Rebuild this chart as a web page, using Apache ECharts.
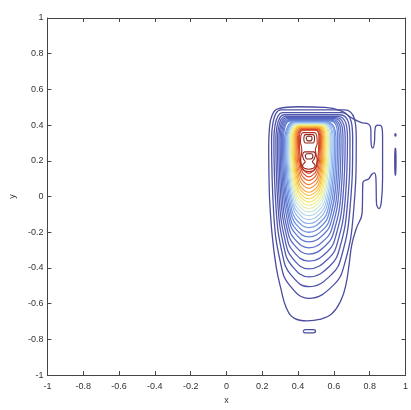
<!DOCTYPE html>
<html><head><meta charset="utf-8">
<script src="https://cdn.jsdelivr.net/npm/echarts@6/dist/echarts.min.js"></script>
<style>html,body{margin:0;padding:0;background:#fff}#c{width:411px;height:410px}</style>
</head><body><div id="c"></div>
<script>
// axis ranges and ticks
const axisRange = [-1, 1];
const tickStep = 0.2;
const xName = 'x';
const yName = 'y';

// outermost contour (level 0)
const outerContour = [[.240,.006],[.236,.28],[.240,.38],[.255,.455],[.29,.492],[.40,.503],[.55,.50],[.64,.48],[.70,.44],[.75,.415],[.795,.405],[.806,.38],[.808,.30],[.817,.272],[.826,.30],[.83,.38],[.845,.40],[.865,.395],[.872,.34],[.872,.10],[.865,-.03],[.852,-.067],[.838,-.04],[.835,.10],[.826,.133],[.812,.125],[.795,.10],[.762,.078],[.758,-.09],[.725,-.18],[.70,-.27],[.685,-.38],[.668,-.49],[.64,-.58],[.59,-.655],[.52,-.688],[.45,-.696],[.38,-.682],[.335,-.625],[.305,-.52],[.278,-.395],[.255,-.213],[.240,.006]];

// nested contours, levels 1..26
const nestedContours = [
[[.252,.327],[.304,.485],[.659,.485],[.725,.327],[.709,-.095],[.659,-.380],[.598,-.496],[.46,-.570],[.352,-.496],[.304,-.380],[.264,-.095],[.252,.327]],
[[.265,.324],[.314,.470],[.644,.470],[.705,.324],[.690,-.066],[.644,-.330],[.587,-.437],[.46,-.505],[.359,-.437],[.314,-.330],[.277,-.066],[.265,.324]],
[[.276,.322],[.322,.458],[.633,.458],[.690,.322],[.676,-.041],[.633,-.287],[.580,-.386],[.46,-.450],[.364,-.386],[.322,-.287],[.287,-.041],[.276,.322]],
[[.285,.321],[.329,.449],[.622,.449],[.676,.321],[.663,-.021],[.622,-.251],[.572,-.345],[.46,-.405],[.369,-.345],[.329,-.251],[.295,-.021],[.285,.321]],
[[.293,.321],[.335,.442],[.612,.442],[.663,.321],[.651,0],[.612,-.217],[.566,-.306],[.46,-.362],[.373,-.306],[.335,-.217],[.303,0],[.293,.321]],
[[.300,.322],[.340,.436],[.603,.436],[.651,.322],[.640,.019],[.603,-.186],[.559,-.269],[.46,-.322],[.377,-.269],[.340,-.186],[.310,.019],[.300,.322]],
[[.307,.323],[.345,.431],[.595,.431],[.640,.323],[.629,.036],[.595,-.158],[.554,-.237],[.46,-.287],[.380,-.237],[.345,-.158],[.316,.036],[.307,.323]],
[[.313,.325],[.350,.427],[.588,.427],[.630,.325],[.620,.052],[.588,-.131],[.548,-.206],[.46,-.254],[.384,-.206],[.350,-.131],[.322,.052],[.313,.325]],
[[.319,.326],[.354,.423],[.581,.423],[.621,.326],[.611,.066],[.581,-.109],[.544,-.181],[.46,-.226],[.387,-.181],[.354,-.109],[.327,.066],[.319,.326]],
[[.325,.327],[.372,.420],[.559,.420],[.612,.327],[.603,.079],[.574,-.088],[.539,-.157],[.46,-.200],[.390,-.157],[.359,-.088],[.333,.079],[.325,.327]],
[[.331,.328],[.376,.417],[.554,.417],[.604,.328],[.595,.092],[.568,-.068],[.535,-.133],[.46,-.174],[.393,-.133],[.363,-.068],[.339,.092],[.331,.328]],
[[.337,.329],[.380,.414],[.548,.414],[.596,.329],[.588,.103],[.562,-.049],[.531,-.111],[.46,-.151],[.396,-.111],[.368,-.049],[.344,.103],[.337,.329]],
[[.342,.330],[.383,.411],[.544,.411],[.589,.330],[.581,.114],[.557,-.032],[.527,-.091],[.46,-.129],[.399,-.091],[.371,-.032],[.349,.114],[.342,.330]],
[[.347,.331],[.387,.408],[.539,.408],[.582,.331],[.575,.125],[.552,-.014],[.523,-.071],[.46,-.107],[.401,-.071],[.375,-.014],[.354,.125],[.347,.331]],
[[.352,.331],[.390,.405],[.535,.405],[.575,.331],[.568,.135],[.546,.002],[.520,-.052],[.46,-.086],[.404,-.052],[.379,.002],[.358,.135],[.352,.331]],
[[.357,.332],[.393,.402],[.531,.402],[.569,.332],[.562,.144],[.542,.017],[.517,-.034],[.46,-.067],[.406,-.034],[.383,.017],[.363,.144],[.357,.332]],
[[.362,.332],[.396,.399],[.527,.399],[.563,.332],[.557,.153],[.537,.032],[.514,-.018],[.46,-.049],[.409,-.018],[.386,.032],[.368,.153],[.362,.332]],
[[.367,.332],[.400,.396],[.523,.396],[.557,.332],[.551,.161],[.533,.046],[.510,-.001],[.46,-.031],[.412,-.001],[.390,.046],[.373,.161],[.367,.332]],
[[.372,.332],[.403,.393],[.519,.393],[.551,.332],[.546,.170],[.528,.060],[.507,.015],[.46,-.013],[.414,.015],[.394,.060],[.377,.170],[.372,.332]],
[[.377,.332],[.406,.390],[.516,.390],[.546,.332],[.541,.179],[.525,.075],[.505,.033],[.46,.006],[.417,.033],[.398,.075],[.382,.179],[.377,.332]],
[[.382,.333],[.409,.387],[.513,.387],[.541,.333],[.536,.187],[.521,.089],[.502,.049],[.46,.024],[.419,.049],[.401,.089],[.387,.187],[.382,.333]],
[[.387,.333],[.413,.384],[.509,.384],[.536,.333],[.531,.198],[.517,.107],[.500,.070],[.46,.046],[.422,.070],[.405,.107],[.391,.198],[.387,.333]],
[[.392,.334],[.416,.381],[.506,.381],[.531,.334],[.527,.208],[.513,.124],[.497,.089],[.46,.067],[.425,.089],[.409,.124],[.396,.208],[.392,.334]],
[[.397,.335],[.419,.378],[.503,.378],[.526,.335],[.522,.220],[.510,.142],[.494,.110],[.46,.090],[.427,.110],[.413,.142],[.401,.220],[.397,.335]],
[[.402,.335],[.422,.375],[.500,.375],[.521,.335],[.517,.229],[.506,.158],[.492,.129],[.46,.110],[.430,.129],[.416,.158],[.405,.229],[.402,.335]],
[[.407,.336],[.426,.372],[.496,.372],[.516,.336],[.513,.239],[.502,.174],[.489,.147],[.46,.130],[.432,.147],[.420,.174],[.410,.239],[.407,.336]]
];

// innermost peak contours (levels 27..29)
const peakContours = [
[[.413,.30],[.428,.358],[.492,.358],[.507,.30],[.497,.262],[.507,.20],[.494,.152],[.46,.140],[.426,.152],[.414,.20],[.421,.262],[.413,.30]],
[[.432,.325],[.442,.347],[.482,.347],[.492,.325],[.482,.300],[.442,.300],[.432,.325]],
[[.425,.235],[.437,.25],[.485,.25],[.497,.235],[.49,.21],[.48,.195],[.495,.175],[.485,.158],[.46,.153],[.435,.158],[.425,.175],[.44,.195],[.43,.21],[.425,.235]],
[[.445,.33],[.455,.338],[.47,.338],[.478,.33],[.47,.312],[.455,.312],[.445,.33]],
[[.44,.23],[.45,.24],[.475,.24],[.483,.228],[.47,.21],[.45,.21],[.44,.23]]
];
const peakLevels = [27, 28, 28, 29, 29];

// small isolated level-0 islands
const islandContours = [
[[.428,-.755],[.44,-.745],[.485,-.745],[.497,-.755],[.485,-.764],[.44,-.764],[.428,-.755]],
[[.940,.345],[.943,.352],[.947,.345],[.943,.338],[.940,.345]],
[[.940,.20],[.941,.27],[.946,.27],[.947,.20],[.946,.12],[.941,.12],[.940,.20]]
];

const levelColors = ['#4a4c9e','#4c50a4','#4e54aa','#5058b0','#525cb6','#5462bc','#5868c2','#5c70c8','#6078ce','#6682d6','#6e8fde','#7a9ee6','#88aeec','#9cc2ee','#b4d6ea','#cce6d4','#e0efb0','#eeee88','#f6e466','#f8d450','#f8c040','#f6a838','#f29032','#ec782c','#e46028','#da4a26','#cc3a22','#b02c1c','#962418','#7e1e14'];

function lineSeries(data, level) {
  return {
    type: 'line', data: data, showSymbol: false, symbol: 'none', smooth: 0.45, smoothConstraint: false,
    xAxisIndex: 0, yAxisIndex: 0, silent: true,
    lineStyle: { color: levelColors[level], width: level < 12 ? 1.3 : 1.1 }
  };
}

const series = [];
series.push(lineSeries(outerContour, 0));
islandContours.forEach(function (c) { series.push(lineSeries(c, 0)); });
nestedContours.forEach(function (c, i) { series.push(lineSeries(c, i + 1)); });
peakContours.forEach(function (c, i) { series.push(lineSeries(c, peakLevels[i])); });

const font = "'Liberation Sans', Arial, sans-serif";
function axisCommon(pos, showLabel) {
  return {
    type: 'value', min: axisRange[0], max: axisRange[1], interval: tickStep, position: pos,
    axisLine: { show: true, onZero: false, lineStyle: { color: '#444', width: 1 } },
    axisTick: { show: true, inside: true, length: 4, lineStyle: { color: '#444' } },
    splitLine: { show: false },
    axisLabel: { show: showLabel, color: '#333', fontSize: 9, fontFamily: font, margin: pos === 'bottom' ? 7 : 4 }
  };
}
const xMain = axisCommon('bottom', true);
xMain.name = xName; xMain.nameLocation = 'middle'; xMain.nameGap = 15;
xMain.nameTextStyle = { color: '#333', fontSize: 9, fontFamily: font };
const yMain = axisCommon('left', true);
yMain.name = yName; yMain.nameLocation = 'middle'; yMain.nameGap = 28;
yMain.nameTextStyle = { color: '#333', fontSize: 9, fontFamily: font };

const chart = echarts.init(document.getElementById('c'), null, { renderer: 'canvas' });
chart.setOption({
  animation: false,
  backgroundColor: '#fff',
  grid: { left: 45, right: 1, top: 18, bottom: 26, containLabel: false },
  xAxis: [xMain, axisCommon('top', false)],
  yAxis: [yMain, axisCommon('right', false)],
  series: series
});
</script></body></html>
